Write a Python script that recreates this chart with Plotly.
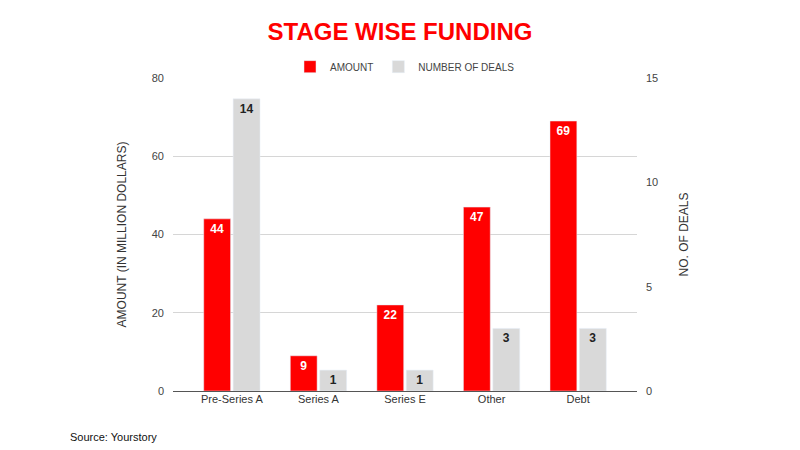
import plotly.graph_objects as go

categories = ["Pre-Series A", "Series A", "Series E", "Other", "Debt"]
amount = [44, 9, 22, 47, 69]
deals = [14, 1, 1, 3, 3]
left_ticks = [0, 20, 40, 60, 80]
right_ticks = [0, 5, 10, 15]

RED = "#ff0000"
GRAY = "#d9d9d9"
FONT = "Liberation Sans, Arial, sans-serif"

fig = go.Figure()
fig.add_trace(go.Bar(
    x=categories, y=amount, name="AMOUNT", marker_color=RED,
    width=0.31, offset=-0.325,
    text=amount, textposition="inside", insidetextanchor="end", textangle=0,
    constraintext="none",
    textfont=dict(color="white", size=12, family=FONT, weight="bold"),
    yaxis="y",
))
fig.add_trace(go.Bar(
    x=categories, y=deals, name="NUMBER OF DEALS", marker_color=GRAY,
    width=0.31, offset=0.015,
    text=deals, textposition="inside", insidetextanchor="end", textangle=0,
    constraintext="none",
    textfont=dict(color="#222222", size=12, family=FONT, weight="bold"),
    yaxis="y2",
))

fig.update_layout(
    width=800, height=450,
    margin=dict(l=173, r=163, t=78, b=59),
    paper_bgcolor="white", plot_bgcolor="white",
    font=dict(family=FONT, color="#444444", size=11),
    title=dict(text="<b>STAGE WISE FUNDING</b>", x=0.5, xanchor="center",
               y=0.93, yanchor="middle",
               font=dict(family="Liberation Sans Narrow, Liberation Sans, Arial, sans-serif",
                         size=24, color=RED)),
    legend=dict(orientation="h", x=0.5, xanchor="center", y=0.99, yanchor="bottom",
                font=dict(size=10, color="#444444"), traceorder="normal",
                itemwidth=30),
    showlegend=True,
    xaxis=dict(range=[-0.68, 4.68], showgrid=False, showline=False, ticks="",
               tickfont=dict(size=11, color="#333333")),
    yaxis=dict(range=[0, 80], tickvals=left_ticks, showgrid=True, gridcolor="#d6d6d6",
               zeroline=True, zerolinecolor="#555555", zerolinewidth=1,
               tickfont=dict(size=11, color="#444444"), ticklabelstandoff=8,
               title=dict(text="AMOUNT (IN MILLION DOLLARS)", font=dict(size=12, color="#333333"),
                          standoff=22)),
    yaxis2=dict(range=[0, 15], tickvals=right_ticks, overlaying="y", side="right",
                showgrid=False, zeroline=False, ticklabelstandoff=8,
                tickfont=dict(size=11, color="#444444"),
                title=dict(text="NO. OF DEALS", font=dict(size=12, color="#333333"),
                           standoff=22)),
    annotations=[dict(text="Source: Yourstory", xref="paper", yref="paper",
                      x=-0.227, y=-0.12, xanchor="left", yanchor="top", showarrow=False,
                      font=dict(size=11, color="#111111"))],
)

fig.write_html("out.html")
